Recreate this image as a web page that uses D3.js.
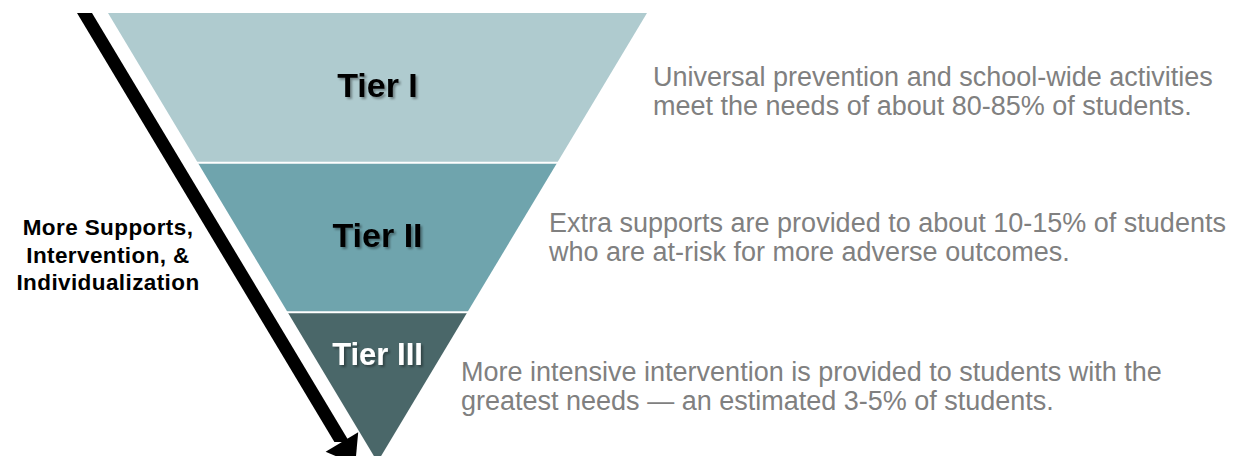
<!DOCTYPE html>
<html>
<head>
<meta charset="utf-8">
<script src="https://cdn.jsdelivr.net/npm/d3@7"></script>
<style>
  html, body { margin: 0; padding: 0; background: #fff; }
  svg { display: block; font-family: "Liberation Sans", Arial, sans-serif; }
</style>
</head>
<body>
<svg id="chart" width="1233" height="456"></svg>
<script>
// ---- data ----
const tiers = ["Tier I", "Tier II", "Tier III"];
const tierColors = ["#AFCBCF", "#6FA4AD", "#4A6769"];
const tierLabelColors = ["#000000", "#000000", "#FFFFFF"];
const tierLabelSizes = [34, 34, 31];
const descriptions = [
  ["Universal prevention and school-wide activities", "meet the needs of about 80-85% of students."],
  ["Extra supports are provided to about 10-15% of students", "who are at-risk for more adverse outcomes."],
  ["More intensive intervention is provided to students with the", "greatest needs \u2014 an estimated 3-5% of students."]
];
const sideLabel = ["More Supports,", "Intervention, &", "Individualization"];

// ---- layout ----
const W = 1233, H = 456;
const topY = 13, apexY = 462, cx = 377.5, halfTop = 269.5;
const svg = d3.select("#chart");

const y = d3.scaleBand().domain(tiers).range([topY, apexY]).paddingInner(0);
const half = d3.scaleLinear().domain([topY, apexY]).range([halfTop, 0]);

const defs = svg.append("defs");
const f = defs.append("filter").attr("id", "shadow").attr("x", "-20%").attr("y", "-20%").attr("width", "140%").attr("height", "140%");
f.append("feDropShadow").attr("dx", 2).attr("dy", 2).attr("stdDeviation", 1.2).attr("flood-color", "#000").attr("flood-opacity", 0.35);

// tiers
const g = svg.append("g");
tiers.forEach((t, i) => {
  const y0 = y(t), y1 = y(t) + y.bandwidth();
  const pts = [[cx - half(y0), y0], [cx + half(y0), y0], [cx + half(y1), y1], [cx - half(y1), y1]];
  g.append("path").attr("d", d3.line()(pts) + "Z").attr("fill", tierColors[i]);
});
// white separators
tiers.slice(1).forEach(t => {
  const yy = y(t);
  g.append("line").attr("x1", cx - half(yy) - 3).attr("x2", cx + half(yy) + 3)
    .attr("y1", yy).attr("y2", yy).attr("stroke", "#fff").attr("stroke-width", 2);
});

// tier labels
const labelBaselines = [97, 247, 365];
tiers.forEach((t, i) => {
  svg.append("text").attr("x", cx).attr("y", labelBaselines[i])
    .attr("text-anchor", "middle").attr("font-weight", "bold")
    .attr("font-size", tierLabelSizes[i]).attr("fill", tierLabelColors[i])
    .attr("filter", "url(#shadow)").text(t);
});

// descriptions
const descX = [653, 549, 461];
const descY = [86, 232, 381];
descriptions.forEach((lines, i) => {
  const tx = svg.append("text").attr("font-size", 27).attr("fill", "#808080");
  lines.forEach((l, j) => {
    tx.append("tspan").attr("x", descX[i]).attr("y", descY[i] + j * 29).text(l);
  });
});

// arrow (shaft with horizontal top cut, parallel to the pyramid's left edge)
const slope = 0.6;
const topL = 77, topR = 92, ay0 = topY, ay1 = 442;
const dxs = slope * (ay1 - ay0);
const shaft = [[topL, ay0], [topR, ay0], [topR + dxs, ay1], [topL + dxs, ay1]];
svg.append("path").attr("d", d3.line()(shaft) + "Z").attr("fill", "#000");
const ax1 = (topL + topR) / 2 + dxs;
const len = Math.hypot(slope, 1);
const ux = slope / len, uy = 1 / len;   // direction
const px = -uy, py = ux;                // perpendicular
const hw = 19, hl = 26;
const head = [[ax1 + px * hw, ay1 + py * hw], [ax1 - px * hw, ay1 - py * hw], [ax1 + ux * hl, ay1 + uy * hl]];
svg.append("path").attr("d", d3.line()(head) + "Z").attr("fill", "#000");

// side label
const st = svg.append("text").attr("text-anchor", "middle").attr("font-weight", "bold")
  .attr("font-size", 22.5).attr("letter-spacing", 0.4).attr("fill", "#000");
sideLabel.forEach((l, j) => {
  st.append("tspan").attr("x", 108).attr("y", 235 + j * 27.5).text(l);
});
</script>
</body>
</html>
